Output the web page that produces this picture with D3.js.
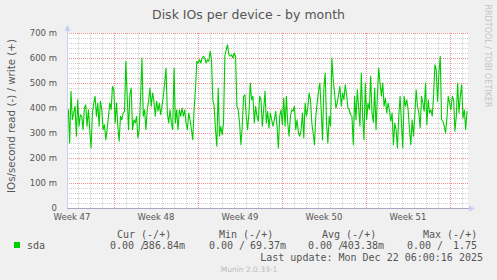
<!DOCTYPE html>
<html lang="en">
<head>
<meta charset="UTF-8" />
<title>Disk IOs per device - by month</title>
<script src="https://cdn.jsdelivr.net/npm/d3@7"></script>
<style>
  body { margin: 0; background: #f0f0f0; }
  svg { display: block; font-family: "DejaVu Sans", sans-serif; }
  .mono { font-family: "DejaVu Sans Mono", monospace; }
</style>
</head>
<body>
<script>
// write IOs per second for sda (milli units)
const ioSegA = [400, 393, 260, 467, 353, 380, 407, 287, 433, 327, 373, 367, 313, 400, 413, 327, 393, 313, 240, 380,
  420, 447, 367, 420, 327, 427, 393, 313, 333, 273, 313, 367, 420, 393, 487, 473, 340, 420, 327, 267,
  367, 353, 380, 387, 587, 447, 313, 453, 480, 313, 353, 340];
const ioSegB = [367, 280, 313, 447, 600, 367, 393, 313, 393, 427, 480, 407, 460, 427, 367, 427, 387, 420, 373, 407,
  447, 500, 560, 380, 340, 393, 340, 313, 560, 340, 393, 313, 393, 367, 400, 367, 393, 340, 313, 380,
  353, 313, 273, 393, 473, 587, 580, 593, 580, 600, 607];
const ioSegC = [600, 580, 593, 587, 627, 593, 433, 407, 313, 247, 480, 287, 327, 293, 340, 607, 633, 653, 613, 607,
  613, 600, 620, 607, 407, 393, 340, 253, 327, 447, 453, 367, 313, 380, 500, 433, 447, 340, 407, 367,
  347, 447, 433, 327, 393, 467, 340, 387, 320, 380, 353];
const ioSegD = [327, 353, 387, 327, 240, 367, 393, 333, 440, 327, 447, 340, 287, 367, 393, 387, 407, 313, 353, 300,
  287, 313, 380, 280, 420, 367, 400, 460, 433, 340, 300, 253, 367, 420, 467, 500, 393, 273, 480, 540,
  340, 260, 367, 327, 600, 513, 460, 400, 420, 453, 487];
const ioSegE = [407, 460, 433, 493, 453, 400, 393, 373, 367, 253, 447, 353, 473, 400, 327, 540, 367, 273, 500, 353,
  420, 393, 527, 380, 343, 480, 313, 447, 560, 500, 447, 500, 407, 440, 380, 420, 393, 347, 380, 253,
  340, 313, 240, 367, 447, 340, 240, 447, 407, 433, 393];
const ioSegF = [313, 253, 353, 287, 373, 473, 407, 380, 320, 447, 420, 387, 500, 333, 433, 380, 393, 367, 447, 573,
  553, 427, 540, 607, 353, 347, 327, 300, 360, 447, 420, 393, 447, 433, 307, 367, 500, 380, 447, 493,
  360, 393, 313, 387];

const weekStarts = ["2025-11-17", "2025-11-24", "2025-12-01", "2025-12-08", "2025-12-15", "2025-12-22"];
const weekLabels = ["Week 47", "Week 48", "Week 49", "Week 50", "Week 51", "Week 52"];
const yTicks = [0, 100, 200, 300, 400, 500, 600, 700];

const legendHead = ["Cur (-/+)", "Min (-/+)", "Avg (-/+)", "Max (-/+)"];
const legendRead = ["0.00", "0.00", "0.00", "0.00"];
const legendWrite = ["386.84m", "69.37m", "403.38m", "1.75"];

const t0 = new Date(Date.UTC(2025, 10, 20, 2, 0));
const t1 = new Date(Date.UTC(2025, 11, 23, 12, 0));
const tLast = new Date(Date.UTC(2025, 11, 23, 10, 0));

const w = 497, h = 280;
const pLeft = 67, pRight = 468, pTop = 33, pBottom = 208;

const values = ioSegA.concat(ioSegB, ioSegC, ioSegD, ioSegE, ioSegF);
const step = (tLast - t0) / (values.length - 1);
const series = values.map((v, i) => ({t: new Date(+t0 + i * step), v: v}));

const x = d3.scaleUtc([t0, t1], [pLeft, pRight]);
const y = d3.scaleLinear([0, 700], [pBottom, pTop]);

const svg = d3.select("body").append("svg").attr("width", w).attr("height", h);

svg.append("rect").attr("x", pLeft).attr("y", pTop).attr("width", pRight - pLeft).attr("height", pBottom - pTop)
  .attr("fill", "#ffffff");

// grid: dotted 1px lines, gray per day / 20 m, red per week / 100 m
const px = v => Math.round(v) + 0.5;
const grid = svg.append("g");
const hLine = (sel, data, col) => sel.selectAll(null).data(data).enter().append("line")
  .attr("x1", pLeft).attr("x2", pRight).attr("y1", d => px(y(d))).attr("y2", d => px(y(d)))
  .attr("stroke", col).attr("stroke-width", 1).attr("stroke-dasharray", "1 1");
const vLine = (sel, data, col) => sel.selectAll(null).data(data).enter().append("line")
  .attr("y1", pTop).attr("y2", pBottom).attr("x1", d => px(x(d))).attr("x2", d => px(x(d)))
  .attr("stroke", col).attr("stroke-width", 1).attr("stroke-dasharray", "1 1");

const weekDates = weekStarts.map(s => new Date(s + "T00:00:00Z"));
hLine(grid, d3.range(20, 700, 20).filter(d => d % 100 != 0), "#cfcfcf");
vLine(grid, d3.utcDay.range(t0, t1).filter(d => d.getUTCDay() != 1), "#cfcfcf");
hLine(grid, yTicks.slice(1), "#f09090");
vLine(grid, weekDates.filter(d => d > t0 && d < t1), "#f09090");

// data line
svg.append("path").datum(series)
  .attr("fill", "none").attr("stroke", "#00cc00").attr("stroke-width", 1.1).attr("stroke-linejoin", "round")
  .attr("d", d3.line().x(d => x(d.t)).y(d => y(d.v)));

// axes
svg.append("line").attr("x1", pLeft + 0.5).attr("x2", pLeft + 0.5).attr("y1", pBottom).attr("y2", pTop - 3)
  .attr("stroke", "#c8cff2");
svg.append("path").attr("d", `M${pLeft - 2.5},${pTop - 2}L${pLeft + 3.5},${pTop - 2}L${pLeft + 0.5},${pTop - 8}Z`)
  .attr("fill", "#c8cff2");
svg.append("line").attr("x1", pLeft).attr("x2", pRight + 3).attr("y1", pBottom + 0.5).attr("y2", pBottom + 0.5)
  .attr("stroke", "#a8a8c4");
svg.append("path").attr("d", `M${pRight + 1},${pBottom - 2.5}L${pRight + 1},${pBottom + 3.5}L${pRight + 7},${pBottom + 0.5}Z`)
  .attr("fill", "#c8cff2");

// y ticks
const yAxis = svg.append("g").attr("transform", `translate(${pLeft},0)`)
  .call(d3.axisLeft(y).tickValues(yTicks).tickSize(0).tickPadding(10)
    .tickFormat(d => d == 0 ? "0" : d + " m"));
yAxis.select(".domain").remove();
yAxis.selectAll("text").attr("font-family", "DejaVu Sans").attr("font-size", 8.5).attr("fill", "#555");

// week labels
const weekMid = weekDates.map(d => new Date(+d + 3.5 * 864e5));
svg.selectAll(".wk").data(weekLabels.filter((l, i) => weekMid[i] > t0 && weekMid[i] < t1)).join("text")
  .attr("x", d => x(weekMid[weekLabels.indexOf(d)]))
  .attr("y", 220).attr("text-anchor", "middle").attr("font-size", 8.5).attr("fill", "#555").text(d => d);

// titles
svg.append("text").attr("x", 248.5).attr("y", 18.5).attr("text-anchor", "middle")
  .attr("font-size", 12.5).attr("fill", "#555").text("Disk IOs per device - by month");
svg.append("text").attr("transform", "translate(15,116) rotate(-90)").attr("text-anchor", "middle")
  .attr("font-size", 10.3).attr("fill", "#555").text("IOs/second read (-) / write (+)");
svg.append("text").attr("transform", "translate(485,56) rotate(90)").attr("text-anchor", "middle")
  .attr("font-size", 8).attr("fill", "#c4c4c4").text("RRDTOOL / TOBI OETIKER");

// legend
const headStart = [117, 219, 322, 423];
const colStart = [110, 209, 308, 407];
const colEnd = [185, 286, 384, 477];
const leg = svg.append("g").attr("class", "mono").attr("font-size", 10).attr("fill", "#555");
leg.append("rect").attr("x", 14).attr("y", 242).attr("width", 6).attr("height", 6).attr("fill", "#00cc00");
leg.append("text").attr("x", 27).attr("y", 249).text("sda");
leg.selectAll(".hd").data(legendHead).join("text")
  .attr("x", (d, i) => headStart[i]).attr("y", 237.5).text(d => d);
leg.selectAll(".rd").data(legendRead).join("text")
  .attr("x", (d, i) => colStart[i]).attr("y", 249).text(d => d + " /");
leg.selectAll(".wr").data(legendWrite).join("text")
  .attr("x", (d, i) => colEnd[i]).attr("y", 249).attr("text-anchor", "end").text(d => d);
leg.append("text").attr("x", 483).attr("y", 261).attr("text-anchor", "end")
  .text("Last update: Mon Dec 22 06:00:16 2025");
svg.append("text").attr("x", 249).attr("y", 272).attr("text-anchor", "middle")
  .attr("font-size", 7.5).attr("fill", "#bbb").text("Munin 2.0.33-1");
</script>
</body>
</html>
